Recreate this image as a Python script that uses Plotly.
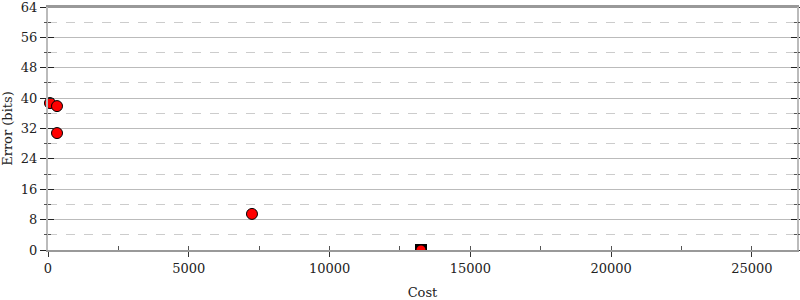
import plotly.graph_objects as go

# Data
alt_cost = [70, 320, 320, 7244]
alt_error = [38.7, 37.9, 30.8, 9.5]
best_cost = [13246]
best_error = [0.0]
x_ticks = [0, 5000, 10000, 15000, 20000, 25000]
x_minor = [2500, 7500, 12500, 17500, 22500]
y_ticks = [0, 8, 16, 24, 32, 40, 48, 56, 64]
y_minor = [4, 12, 20, 28, 36, 44, 52, 60]

FONT = "DejaVu Serif"
YR = [0, 64]

fig = go.Figure()
fig.add_trace(go.Scatter(
    x=best_cost, y=best_error, mode="markers",
    marker=dict(symbol="square", size=12, color="black"),
    cliponaxis=True, showlegend=False))
fig.add_trace(go.Scatter(
    x=best_cost, y=best_error, mode="markers",
    marker=dict(symbol="circle", size=9, color="red"),
    cliponaxis=True, showlegend=False))
fig.add_trace(go.Scatter(
    x=alt_cost, y=alt_error, mode="markers",
    marker=dict(symbol="circle", size=11, color="red",
                line=dict(color="black", width=1)),
    cliponaxis=False, showlegend=False))
for ax in ["y2", "y3", "y4"]:
    fig.add_trace(go.Scatter(x=[None], y=[None], yaxis=ax, showlegend=False))
fig.add_trace(go.Scatter(x=[None], y=[None], xaxis="x2", showlegend=False))

common = dict(overlaying="y", range=YR, zeroline=False, showticklabels=False,
              showline=False, mirror="ticks", tickwidth=1, layer="above traces",
              automargin=False)

fig.update_layout(
    width=800, height=300,
    margin=dict(l=48, r=3, t=7, b=50, autoexpand=False),
    paper_bgcolor="white", plot_bgcolor="white",
    font=dict(family=FONT, size=13, color="#222"),
    xaxis=dict(
        range=[0, 26600], tickvals=x_ticks, tickformat="d",
        showgrid=False, zeroline=False, automargin=False,
        showline=True, linecolor="#999", linewidth=2, mirror=True,
        ticks="outside", ticklen=5, tickcolor="#333", tickwidth=1,
        title=dict(text="Cost", font=dict(family=FONT, size=13), standoff=15),
        tickfont=dict(family=FONT, size=13),
    ),
    xaxis2=dict(
        overlaying="x", range=[0, 26600], tickvals=x_ticks + x_minor,
        ticktext=[""] * 11, showgrid=False, zeroline=False, showline=False,
        ticks="inside", ticklen=4, tickcolor="#555", tickwidth=1, side="bottom",
        anchor="y", automargin=False,
    ),
    yaxis=dict(
        range=YR, tickvals=y_ticks, automargin=False, ticklabeloverflow="allow",
        showgrid=True, gridcolor="#bbb", gridwidth=1, zeroline=False,
        showline=True, linecolor="#bbb", linewidth=2, mirror="ticks",
        ticks="outside", ticklen=6, tickcolor="#222", tickwidth=1,
        title=dict(text="Error (bits)", font=dict(family=FONT, size=13), standoff=8),
        tickfont=dict(family=FONT, size=13),
    ),
    yaxis2=dict(common, tickvals=y_minor, showgrid=True, gridcolor="#ccc",
                griddash="dash", gridwidth=1, ticks="outside", ticklen=3,
                tickcolor="#555"),
    yaxis3=dict(common, tickvals=y_ticks, showgrid=False, ticks="inside",
                ticklen=6, tickcolor="#222"),
    yaxis4=dict(common, tickvals=y_minor, showgrid=False, ticks="inside",
                ticklen=3, tickcolor="#555"),
)
fig.add_shape(type="line", xref="paper", yref="y", x0=0, x1=1, y0=64, y1=64,
              line=dict(color="#999", width=2), layer="below")

fig.write_html("out.html")
